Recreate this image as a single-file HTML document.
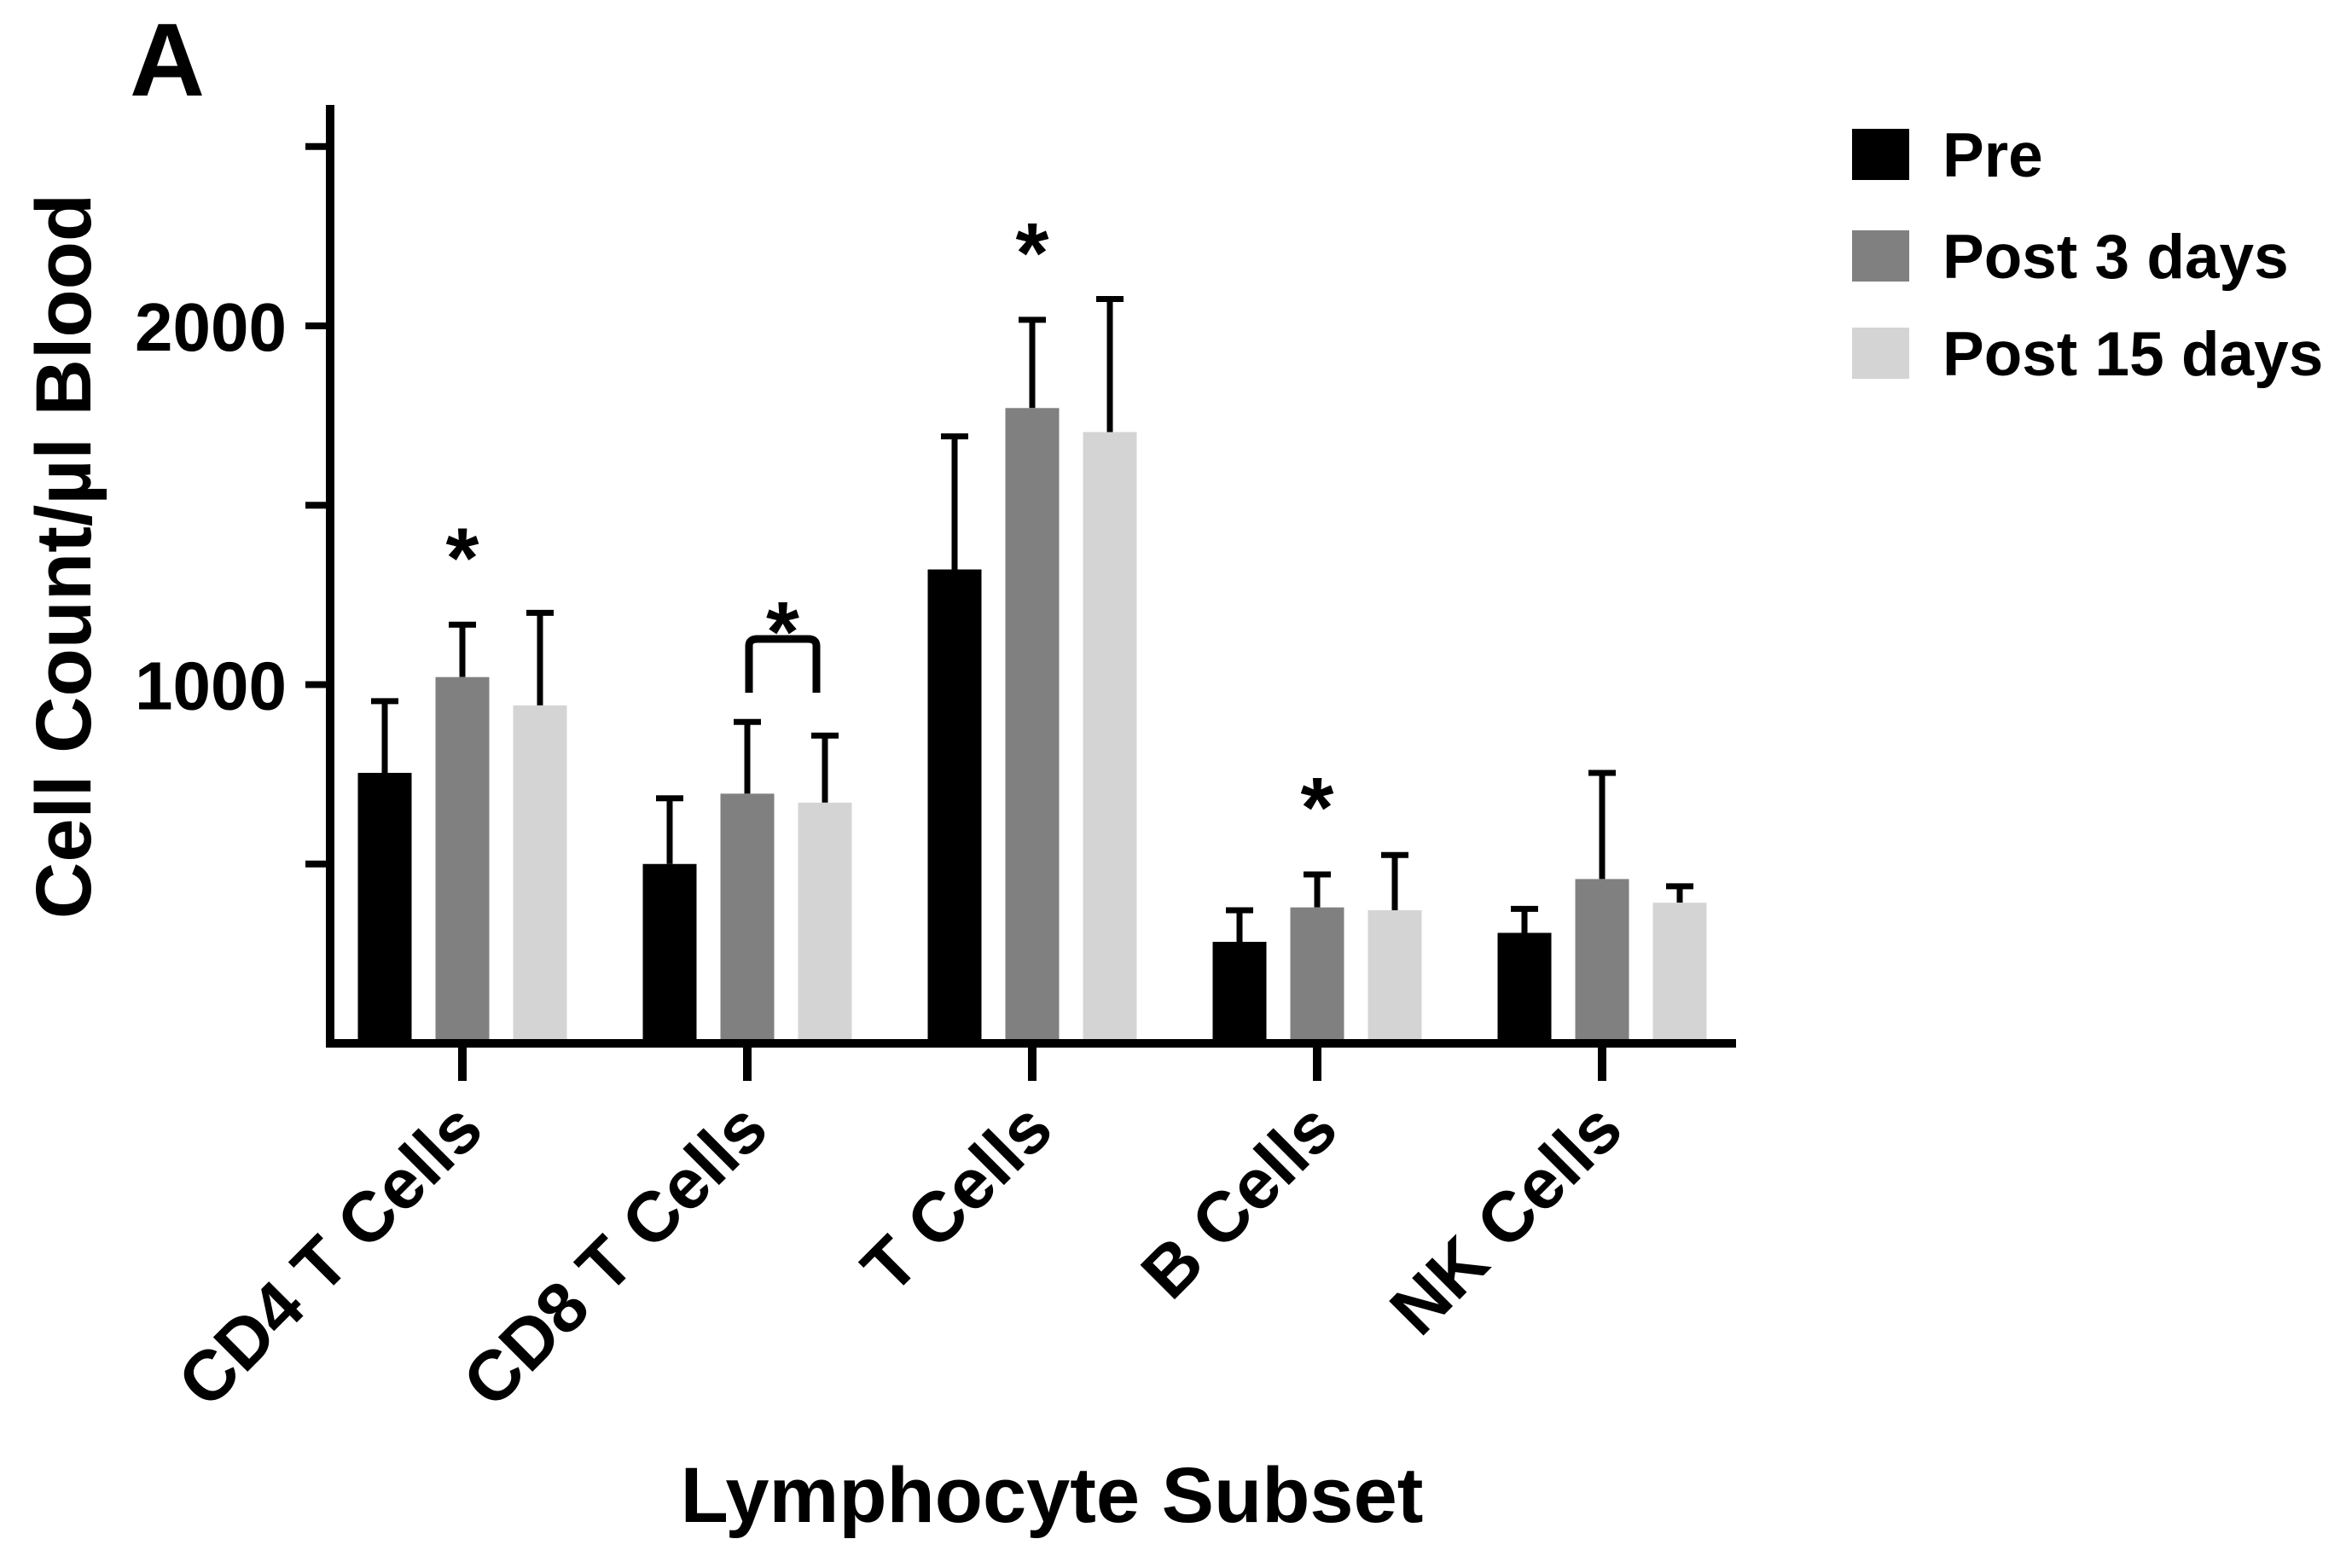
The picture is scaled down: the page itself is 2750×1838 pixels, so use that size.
<!DOCTYPE html>
<html><head><meta charset="utf-8">
<style>
html,body{margin:0;padding:0;background:#fff;}
svg{display:block;font-family:"Liberation Sans",Arial,sans-serif;font-weight:bold;}
</style></head>
<body>
<svg id="chart" width="2750" height="1838" viewBox="0 0 2750 1838" xmlns="http://www.w3.org/2000/svg">
<text x="152" y="112" font-size="122" fill="#000">A</text>
<text transform="translate(106,652) rotate(-90)" text-anchor="middle" font-size="92" fill="#000">Cell Count/µl Blood</text>
<text x="1233" y="1784" text-anchor="middle" font-size="92" fill="#000">Lymphocyte Subset</text>
<g id="plot"></g>
<g>
<rect x="2171" y="151" width="67" height="60" fill="#000"/>
<text x="2277" y="207" font-size="73" fill="#000">Pre</text>
<rect x="2171" y="270" width="67" height="60" fill="#808080"/>
<text x="2277" y="326" font-size="73" fill="#000">Post 3 days</text>
<rect x="2171" y="384" width="67" height="60" fill="#d4d4d4"/>
<text x="2277" y="440" font-size="73" fill="#000">Post 15 days</text>
</g>
</svg>
<script>
const categories = ["CD4 T Cells","CD8 T Cells","T Cells","B Cells","NK Cells"];
const preValues = [754, 500, 1321, 283, 308];
const post3Values = [1021, 696, 1771, 379, 458];
const post15Values = [942, 671, 1704, 371, 392];
const preErr = [954, 683, 1692, 371, 375];
const post3Err = [1167, 896, 2017, 471, 754];
const post15Err = [1200, 858, 2075, 525, 438];
const yTicks = [1000, 2000];
const yMinorTicks = [500, 1500, 2500];
const starCategories = [0, 2, 3];

const NS = "http://www.w3.org/2000/svg";
const plot = document.getElementById("plot");
const x0 = 387, yBase = 1223, pxPer = 0.4205, groupStart = 542, groupStep = 334, barOff = 91, barW = 63;
const yS = v => yBase - v * pxPer;
const xG = i => groupStart + i * groupStep;
function mk(tag, attrs){const e=document.createElementNS(NS,tag);for(const k in attrs)e.setAttribute(k,attrs[k]);plot.appendChild(e);return e;}

const series = [[preValues, preErr, "#000", "pre"], [post3Values, post3Err, "#808080", "post3"], [post15Values, post15Err, "#d4d4d4", "post15"]];
series.forEach((s, si) => {
  categories.forEach((c, i) => {
    const cx = xG(i) + (si - 1) * barOff;
    const top = yS(s[0][i]);
    const eTop = yS(s[1][i]);
    const ln = mk("line", {x1: cx, x2: cx, y1: top, y2: eTop, stroke: "#000", "stroke-width": 7});
    
    
    const cap = mk("line", {x1: cx - 16, x2: cx + 16, y1: eTop, y2: eTop, stroke: "#000", "stroke-width": 7});
    
    
    const r = mk("rect", {x: cx - barW/2, y: top, width: barW, height: yBase - top, fill: s[2]});
    
    
  });
});

const yAxis = mk("line", {x1: x0, x2: x0, y1: 123, y2: yBase + 5, stroke: "#000", "stroke-width": 10});


const xAxis = mk("line", {x1: x0 - 5, x2: 2035, y1: yBase, y2: yBase, stroke: "#000", "stroke-width": 10});



yTicks.concat(yMinorTicks).forEach(v => {
  const t = mk("line", {x1: 358, x2: x0, y1: yS(v), y2: yS(v), stroke: "#000", "stroke-width": 8});
  
  
});
yTicks.forEach(v => {
  const t = mk("text", {x: 336, y: yS(v) + 29, "text-anchor": "end", "font-size": 80, fill: "#000"});
  t.textContent = v;
  
  
});
categories.forEach((c, i) => {
  const t = mk("line", {x1: xG(i), x2: xG(i), y1: yBase, y2: 1267, stroke: "#000", "stroke-width": 10});
  
  
  const lb = mk("text", {transform: "translate(" + (xG(i) + 28) + ",1328) rotate(-45)", "text-anchor": "end", "font-size": 83, fill: "#000"});
  lb.textContent = c;
  
  
});
starCategories.forEach(i => {
  const st = mk("text", {x: xG(i), y: yS(post3Err[i]) - 100 + 56, "text-anchor": "middle", "font-size": 100, fill: "#000"});
  st.textContent = "*";
  
  
});
// CD8 bracket between post3 and post15
const bx1 = xG(1) + 2, bx2 = xG(1) + barOff - 10, bTop = 749, bBot = 812;
const br = mk("path", {d: "M" + bx1 + " " + bBot + " L" + bx1 + " " + (bTop + 8) + " Q" + bx1 + " " + bTop + " " + (bx1 + 10) + " " + bTop + " L" + (bx2 - 10) + " " + bTop + " Q" + bx2 + " " + bTop + " " + bx2 + " " + (bTop + 8) + " L" + bx2 + " " + bBot, fill: "none", stroke: "#000", "stroke-width": 9});


const bs = mk("text", {x: (bx1 + bx2) / 2, y: 775, "text-anchor": "middle", "font-size": 100, fill: "#000"});
bs.textContent = "*";


</script>
</body></html>
